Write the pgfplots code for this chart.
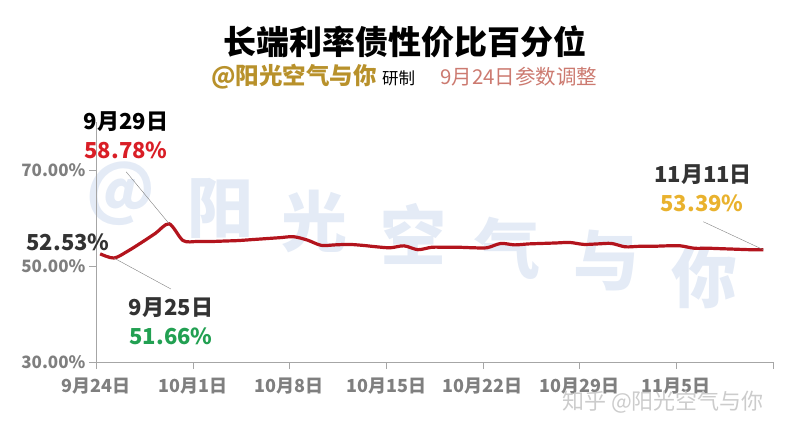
\documentclass[border=0pt]{standalone}
\usepackage{fontspec}
\setmainfont{Noto Sans CJK SC}
\usepackage{pgfplots}
\pgfplotsset{compat=1.18}

\definecolor{linered}{HTML}{B3141D}
\definecolor{tickgray}{HTML}{7F7F7F}
\definecolor{axgray}{HTML}{A6A6A6}
\definecolor{wmblue}{HTML}{E4EBF6}
\definecolor{darktxt}{HTML}{333333}
\definecolor{peakred}{HTML}{D91E26}
\definecolor{lowgreen}{HTML}{22A052}
\definecolor{endgold}{HTML}{E9B22E}
\definecolor{brandgold}{HTML}{B8912B}
\definecolor{notepink}{HTML}{CC7A70}

\begin{document}
\begin{tikzpicture}
% watermark behind the chart (pixel coordinates of the reference)
\begin{scope}[shift={(-96pt,362pt)}, x=1pt, y=-1pt]
  \foreach \ch/\px/\py in {@/121/194, 阳/220/208, 光/314/221, 空/413/234, 气/507/248, 与/606/261, 你/704/278}
    \node[text=wmblue, font=\fontsize{66}{66}\bfseries\selectfont] at (\px,\py) {\ch};
\end{scope}

\begin{axis}[
  scale only axis,
  width=677pt, height=240pt,
  xmin=-0.3, xmax=48.7,
  ymin=30, ymax=80,
  axis x line=bottom, axis y line=left,
  axis line style={axgray, -},
  tick align=outside,
  major tick length=7pt,
  tick style={axgray},
  xtick={-0.3,6.7,13.7,20.7,27.7,34.7,41.7,48.7},
  xticklabels={9月24日,10月1日,10月8日,10月15日,10月22日,10月29日,11月5日,},
  ytick={30,50,70},
  yticklabels={30.00\%,50.00\%,70.00\%},
  ticklabel style={text=tickgray},
  xticklabel style={font=\fontsize{18}{18}\bfseries\selectfont, yshift=-5pt},
  yticklabel style={font=\fontsize{17}{17}\bfseries\selectfont},
  clip=false,
]
\addplot[linered, line width=3.2pt, smooth, tension=0.5] coordinates {
(0,52.53)(1,51.66)(2,53.1)(3,54.9)(4,56.8)(5,58.78)(6,55.3)(7,55.1)(8,55.1)(9,55.2)
(10,55.3)(11,55.5)(12,55.7)(13,55.9)(14,56.1)(15,55.4)(16,54.3)(17,54.4)(18,54.5)(19,54.3)
(20,54.0)(21,53.8)(22,54.2)(23,53.4)(24,53.9)(25,53.9)(26,53.9)(27,53.8)(28,53.8)(29,54.7)
(30,54.4)(31,54.6)(32,54.7)(33,54.8)(34,54.9)(35,54.5)(36,54.6)(37,54.7)(38,54.0)(39,54.1)
(40,54.1)(41,54.2)(42,54.2)(43,53.7)(44,53.7)(45,53.6)(46,53.5)(47,53.4)(48,53.39)
};
\draw[gray, thin] (axis cs:5,58.78) -- ++(-43pt,52pt);
\draw[gray, thin] (axis cs:1,51.66) -- ++(57pt,-31pt);
\draw[gray, thin] (axis cs:48,53.39) -- ++(-60pt,28pt);
\end{axis}

% titles and annotations (pixel coordinates of the reference)
\begin{scope}[shift={(-96pt,362pt)}, x=1pt, y=-1pt]
  \node[font=\fontsize{33}{33}\bfseries\selectfont] at (405,42) {长端利率债性价比百分位};
  \node[anchor=west, inner sep=0, text=brandgold, font=\fontsize{23.5}{23.5}\bfseries\selectfont] at (211,77) {@阳光空气与你};
  \node[anchor=west, inner sep=0, font=\fontsize{16.5}{16.5}\selectfont] at (382,78) {研制};
  \node[anchor=west, inner sep=0, text=notepink, font=\fontsize{20.5}{20.5}\selectfont] at (440,77) {9月24日参数调整};

  \tikzset{ann/.style={inner sep=0}}
  \node[ann, text=black, font=\fontsize{22}{22}\bfseries\selectfont] at (126,122) {9月29日};
  \node[ann, text=peakred, font=\fontsize{22}{22}\bfseries\selectfont] at (126,150) {58.78\%};
  \node[ann, text=darktxt, font=\fontsize{22}{22}\bfseries\selectfont] at (68,242) {52.53\%};
  \node[ann, text=darktxt, font=\fontsize{22}{22}\bfseries\selectfont] at (171,308) {9月25日};
  \node[ann, text=lowgreen, font=\fontsize{22}{22}\bfseries\selectfont] at (171,336) {51.66\%};
  \node[ann, text=darktxt, font=\fontsize{22}{22}\bfseries\selectfont] at (703,175) {11月11日};
  \node[ann, text=endgold, font=\fontsize{22}{22}\bfseries\selectfont] at (702,203) {53.39\%};

  \node[anchor=west, inner sep=0, text=gray!40, font=\fontsize{22}{22}\selectfont] at (562,402) {知乎 @阳光空气与你};
\end{scope}

\pgfresetboundingbox
\path[use as bounding box] (-96pt,-72pt) rectangle (702pt,362pt);
\end{tikzpicture}
\end{document}
